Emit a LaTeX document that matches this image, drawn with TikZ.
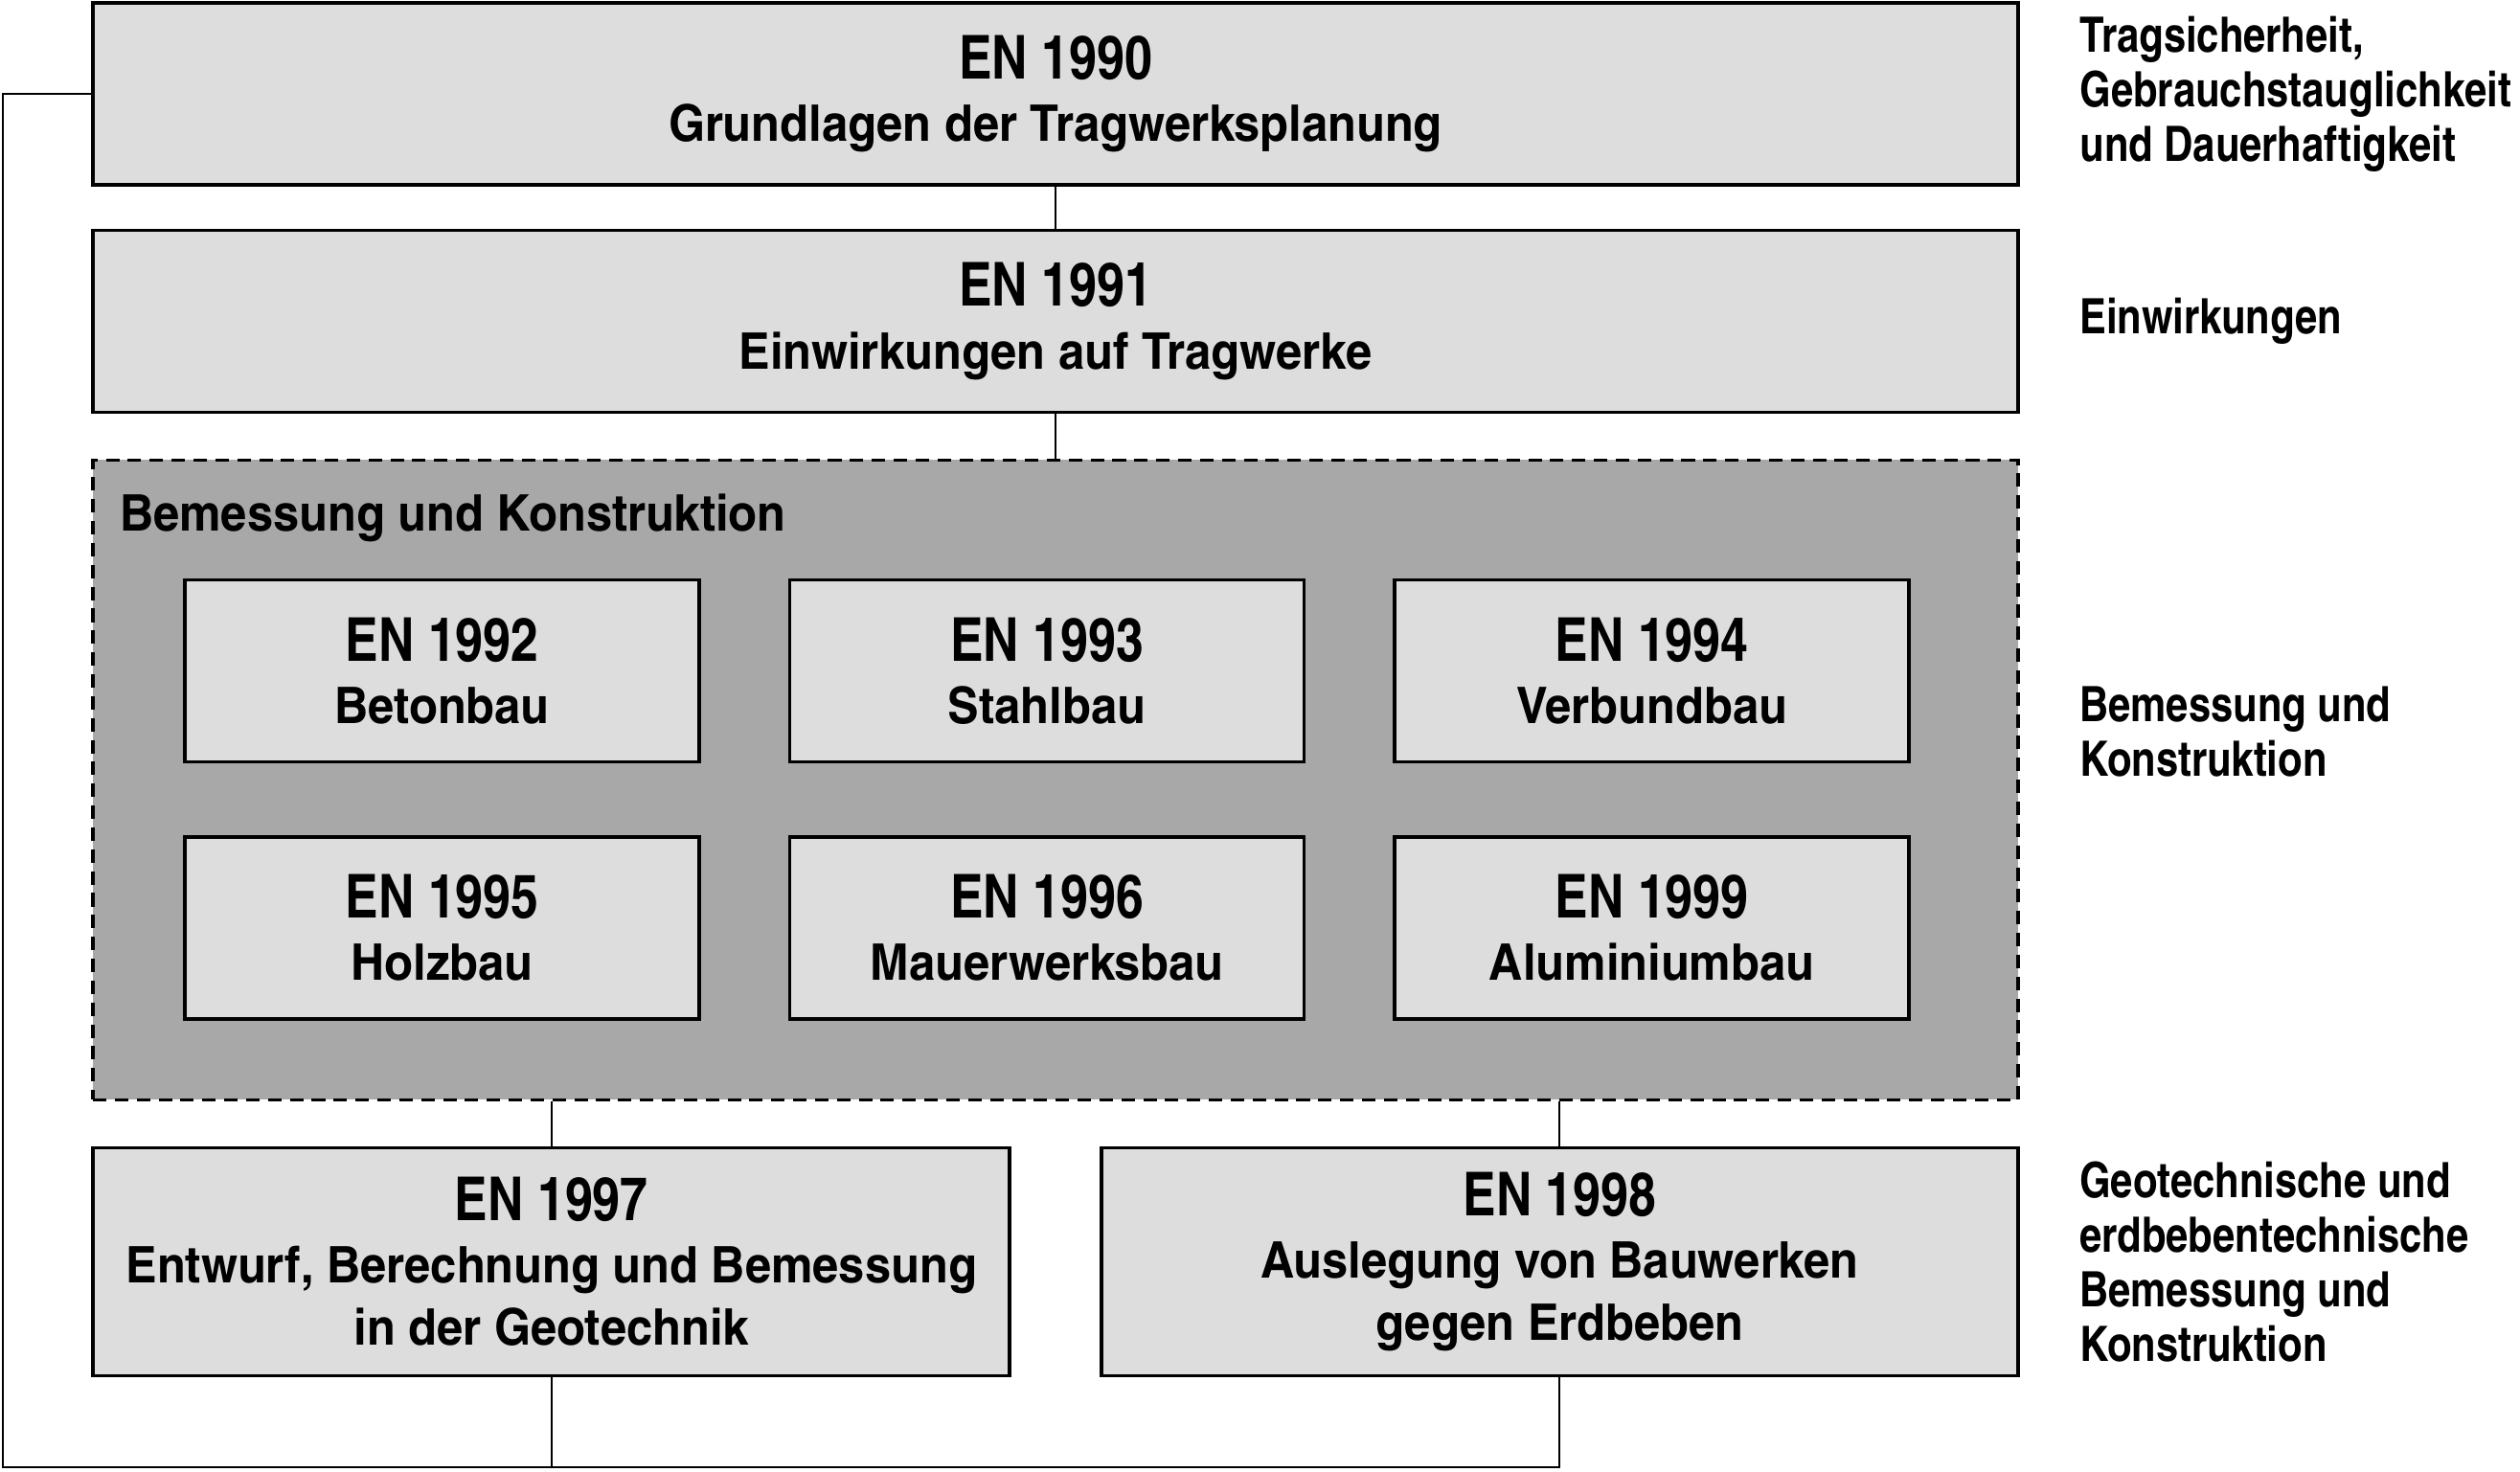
\documentclass[tikz,border=0pt]{standalone}
\usepackage{fontspec}
\setmainfont{texgyreheroscn-bold.otf}
\newfontfamily\subfamily{texgyreheroscn-bold.otf}[FakeStretch=1.13]
\usetikzlibrary{positioning,calc}
\definecolor{boxgray}{RGB}{221,221,221}
\definecolor{grpgray}{RGB}{168,168,168}
\newcommand*{\ENfont}{\normalfont\fontsize{18}{19}\selectfont}
\newcommand*{\Subfont}{\subfamily\fontsize{15}{18.5}\selectfont}
\newcommand*{\Notefont}{\normalfont\fontsize{14.5}{16.2}\selectfont}
\tikzset{
  enbox/.style={draw,line width=1pt,fill=boxgray,align=center,font=\Subfont,
    minimum width=20.1cm,minimum height=1.9cm,inner sep=0pt},
  smallbox/.style={enbox,minimum width=5.37cm},
  lowbox/.style={enbox,minimum width=9.57cm,minimum height=2.38cm},
  group/.style={draw,line width=0.9pt,dash pattern=on 4pt off 2.5pt,fill=grpgray,
    minimum width=20.1cm,minimum height=6.68cm,inner sep=0pt},
  note/.style={align=left,font=\Notefont,inner sep=0pt,anchor=west},
  link/.style={line width=0.6pt}
}

\begin{document}
\begin{tikzpicture}
\useasboundingbox (0,0) rectangle (26.31,-15.36);
\node[enbox] (en1990) at (11.02,-0.98) {{\ENfont EN 1990}\\Grundlagen der Tragwerksplanung};
\node[enbox,below=0.44cm of en1990] (en1991) {{\ENfont EN 1991}\\Einwirkungen auf Tragwerke};
\node[group,below=0.465cm of en1991] (bemessung) {};
\node[anchor=north west,font=\Subfont,inner sep=0pt] (bemlabel)
  at ($(bemessung.north west)+(0.29,-0.36)$) {Bemessung und Konstruktion};
% Bemessung und Konstruktion
\node[smallbox] (en1992) at (4.615,-7.006) {{\ENfont EN 1992}\\Betonbau};
\node[smallbox,right=0.91cm of en1992] (en1993) {{\ENfont EN 1993}\\Stahlbau};
\node[smallbox,right=0.91cm of en1993] (en1994) {{\ENfont EN 1994}\\Verbundbau};
\node[smallbox,below=0.75cm of en1992] (en1995) {{\ENfont EN 1995}\\Holzbau};
\node[smallbox,below=0.75cm of en1993] (en1996) {{\ENfont EN 1996}\\Mauerwerksbau};
\node[smallbox,below=0.75cm of en1994] (en1999) {{\ENfont EN 1999}\\Aluminiumbau};
% Geotechnik und Erdbeben
\node[lowbox,below right=0.47cm and 0cm of bemessung.south west] (en1997)
  {{\ENfont EN 1997}\\Entwurf, Berechnung und Bemessung\\in der Geotechnik};
\node[lowbox,below left=0.47cm and 0cm of bemessung.south east] (en1998)
  {{\ENfont EN 1998}\\Auslegung von Bauwerken\\gegen Erdbeben};
\draw[link] (en1990) -- (en1991);
\draw[link] (en1991) -- (bemessung);
\draw[link] (en1997.north) -- (en1997.north |- bemessung.south);
\draw[link] (en1998.north) -- (en1998.north |- bemessung.south);
\coordinate (loop) at (0.034,-15.32);
\draw[link] (en1990.west) -| (loop) -- (loop -| en1998.south) -- (en1998.south);
\draw[link] (en1997.south) -- (en1997.south |- loop);
% Erlaeuterungen rechts
\node[note,right=0.62cm of en1990] (n1990) {Tragsicherheit,\\Gebrauchstauglichkeit\\und Dauerhaftigkeit};
\node[note,right=0.62cm of en1991] (n1991) {Einwirkungen};
\node[note] (nbem) at ($(bemessung.east)+(0.62,0.5)$) {Bemessung und\\Konstruktion};
\node[note,right=0.62cm of en1998] (ngeo) {Geotechnische und\\erdbebentechnische\\Bemessung und\\Konstruktion};
\end{tikzpicture}
\end{document}
